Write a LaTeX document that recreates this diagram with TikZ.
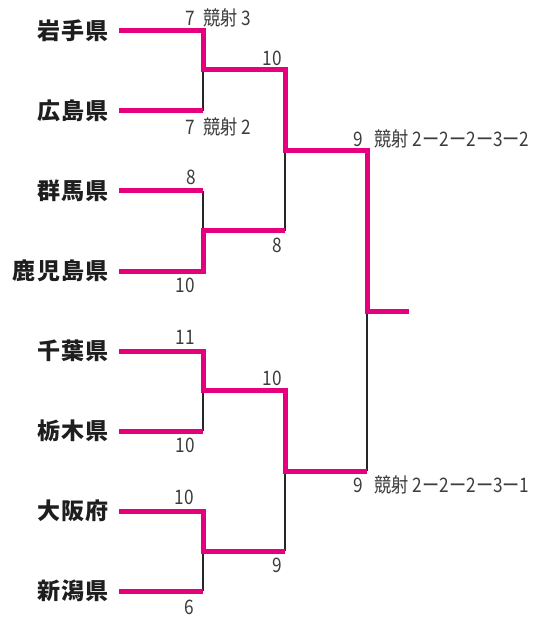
\documentclass[tikz,border=0pt]{standalone}
\usepackage{fontspec}
\newfontfamily\jpteam[LetterSpace=6]{Noto Sans CJK JP}
\newfontfamily\jplab[FakeStretch=0.86]{Noto Sans CJK JP}
\definecolor{pk}{RGB}{230,0,126}
\definecolor{labgray}{RGB}{60,60,60}
\definecolor{teamcol}{RGB}{30,30,30}
\tikzset{
  team/.style={font=\jpteam\bfseries\fontsize{23}{23}\selectfont, text=teamcol, inner sep=0pt, anchor=east},
  lab/.style={font=\jplab\fontsize{20}{20}\selectfont, text=labgray, inner sep=0pt},
  win/.style={draw=pk, line width=5pt, line join=miter},
  lose/.style={draw=black!85, line width=2pt}
}
\begin{document}
\begin{tikzpicture}[x=1pt,y=-1pt]
\useasboundingbox (0,0) rectangle (552,617);
% team names
\node[team] (n1) at (109,31) {岩手県};
\node[team] (n2) at (109,111) {広島県};
\node[team] (n3) at (109,191) {群馬県};
\node[team] (n4) at (109,271) {鹿児島県};
\node[team] (n5) at (109,351) {千葉県};
\node[team] (n6) at (109,431) {栃木県};
\node[team] (n7) at (109,511) {大阪府};
\node[team] (n8) at (109,591) {新潟県};
% line starts
\foreach \i/\y in {1/31,2/111,3/191,4/271,5/351,6/431,7/511,8/591}
  \coordinate (s\i) at (119,\y);
% round 1 match points
\coordinate (r1a) at (203,70);
\coordinate (r1b) at (203,231);
\coordinate (r1c) at (203,390);
\coordinate (r1d) at (203,551);
% round 2 match points
\coordinate (r2a) at (285,151);
\coordinate (r2b) at (285,471);
% final
\coordinate (f) at (367,311);
\coordinate (champ) at (409,311);
% losing (black) verticals
\draw[lose] (s2 -| r1a) -- (r1a);
\draw[lose] (s3 -| r1b) -- (r1b);
\draw[lose] (s6 -| r1c) -- (r1c);
\draw[lose] (s8 -| r1d) -- (r1d);
\draw[lose] (r1b -| r2a) -- (r2a);
\draw[lose] (r1d -| r2b) -- (r2b);
\draw[lose] (r2b -| f) -- (f);
% winning (pink) paths
\draw[win] (s1) -| (r1a) -| (r2a) -| (f) -- (champ);
\draw[win] (s2) -- (s2 -| r1a);
\draw[win] (s3) -- (s3 -| r1b);
\draw[win] (s4) -| (r1b) -- (r1b -| r2a);
\draw[win] (s5) -| (r1c) -| (r2b) -- (r2b -| f);
\draw[win] (s6) -- (s6 -| r1c);
\draw[win] (s7) -| (r1d) -- (r1d -| r2b);
\draw[win] (s8) -- (s8 -| r1d);
% score labels
\node[lab, anchor=west] (l1) at (185,18) {7\hspace{9pt}競射 3};
\node[lab, anchor=west] (l2) at (185,127) {7\hspace{9pt}競射 2};
\node[lab, anchor=east] (l3) at (196,177) {8};
\node[lab, anchor=east] (l4) at (195,285) {10};
\node[lab, anchor=east] (l5) at (195,337) {11};
\node[lab, anchor=east] (l6) at (195,445) {10};
\node[lab, anchor=east] (l7) at (194,497) {10};
\node[lab, anchor=east] (l8) at (194,607) {6};
\node[lab, anchor=east] (l9) at (282,58) {10};
\node[lab, anchor=east] (l10) at (282,245) {8};
\node[lab, anchor=east] (l11) at (282,378) {10};
\node[lab, anchor=east] (l12) at (282,565) {9};
\node[lab, anchor=west] (l13) at (353,139) {9\hspace{12pt}競射 2ー2ー2ー3ー2};
\node[lab, anchor=west] (l14) at (353,485) {9\hspace{12pt}競射 2ー2ー2ー3ー1};
\end{tikzpicture}
\end{document}
